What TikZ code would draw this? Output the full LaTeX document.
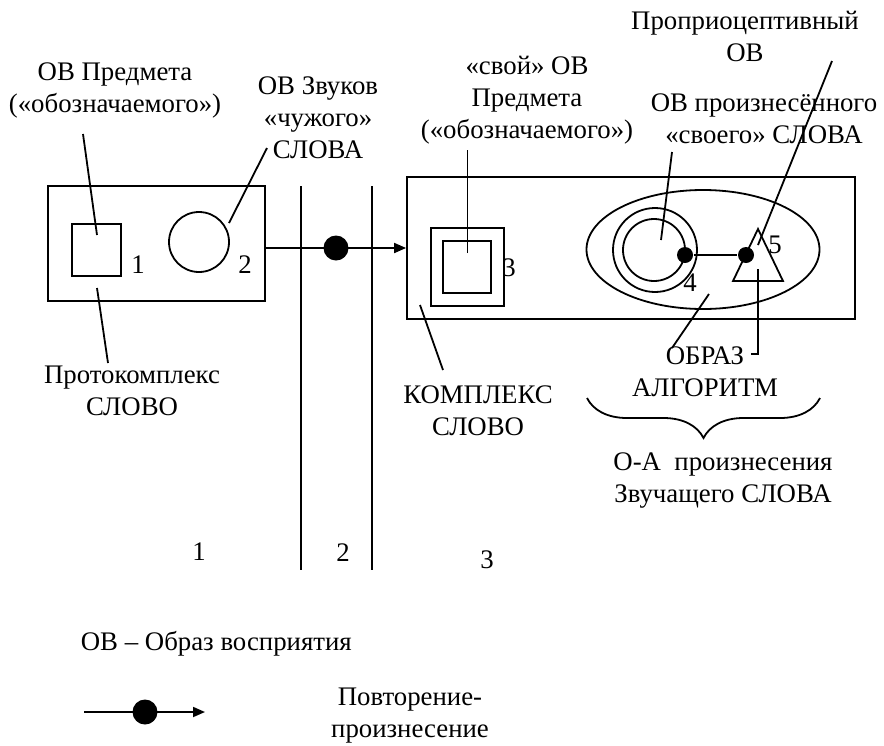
\documentclass[tikz,border=0pt]{standalone}
\usepackage{fontspec}
\setmainfont{Liberation Serif}
\usetikzlibrary{arrows.meta,shapes.geometric,decorations.pathreplacing}
\tikzset{
  txt/.style={font=\fontsize{13.4}{16}\selectfont, inner sep=0pt, align=center, anchor=base},
  num/.style={font=\fontsize{13.4}{16}\selectfont, inner sep=0pt},
  bdot/.style={circle, fill=black, inner sep=0pt, minimum size=#1},
  arr/.style={-{Triangle[length=6pt,width=5pt]}},
}
\begin{document}
\begin{tikzpicture}[x=0.5pt, y=-0.5pt, line width=0.9pt]
  \useasboundingbox (0,0) rectangle (884,745);
  % zone 1: protocomplex
  \node[draw, minimum width=108.5pt, minimum height=57.5pt] (proto) at (156.5,243.5) {};
  \node[draw, minimum width=24.5pt, minimum height=26pt] (sq1) at (96.5,250) {};
  \node[draw, circle, minimum size=30pt] (circ2) at (199,242) {};
  \node[num] (n1) at (138,265) {1};
  \node[num] (n2) at (245,265) {2};
  % zone borders
  \draw (301,186) -- (301,570);
  \draw (372,186) -- (372,570);
  % zone 3: complex
  \node[draw, minimum width=224pt, minimum height=71pt] (kompl) at (631,248) {};
  \node[draw, minimum width=36.5pt, minimum height=39pt] (sq3o) at (467.5,267) {};
  \node[draw, minimum width=24pt, minimum height=26pt] (sq3i) at (467,267) {};
  \node[num] (n3) at (509,268) {3};
  \node[draw, ellipse, minimum width=116.5pt, minimum height=59.5pt] (oa) at (703,249.5) {};
  \node[draw, circle, minimum size=42pt] (c4o) at (655,250) {};
  \node[draw, circle, minimum size=31pt] (c4i) at (654,250) {};
  \node[bdot=8pt] (d1) at (685,255) {};
  \node[bdot=8pt] (d2) at (746,255) {};
  \draw (d1) -- (d2);
  \coordinate (t1) at (758,229);
  \coordinate (t2) at (733,281);
  \coordinate (t3) at (783,281);
  \draw (t1) -- (t2) -- (t3) -- cycle;
  \node[num] (n4) at (690,283) {4};
  \node[num] (n5) at (775,245) {5};
  % repetition arrow
  \draw[arr] (proto.east |- kompl.west) -- (kompl.west);
  \node[bdot=12.5pt] (rep) at (336,248) {};
  % labels (base = last line)
  \node[txt] (lsq1) at (115,112) {ОВ Предмета\\(«обозначаемого»)};
  \node[txt] (lcirc2) at (318,158) {ОВ Звуков\\«чужого»\\СЛОВА};
  \node[txt] (lproto) at (132,415) {Протокомплекс\\СЛОВО};
  \node[txt] (lsq3) at (527,138) {«свой» ОВ\\Предмета\\(«обозначаемого»)};
  \node[txt] (lkompl) at (478,435) {КОМПЛЕКС\\СЛОВО};
  \node[txt] (ltri) at (745,61) {Проприоцептивный\\ОВ};
  \node[txt] (lc4) at (764,143) {ОВ произнесённого\\«своего» СЛОВА};
  \node[txt] (lobraz) at (705,396.6) {ОБРАЗ\\АЛГОРИТМ};
  \node[txt] (loa) at (723,502) {О-А\ \ произнесения\\Звучащего СЛОВА};
  % leaders
  \coordinate (p1) at (97,235);   \coordinate (q1) at (83,134);
  \coordinate (p2) at (229,223);  \coordinate (q2) at (267,148);
  \coordinate (p3) at (97,288);   \coordinate (q3) at (108,363);
  \coordinate (p4) at (467.5,253); \coordinate (q4) at (467.5,150);
  \coordinate (p5) at (420,305);  \coordinate (q5) at (443,370);
  \coordinate (p6) at (661,240);  \coordinate (q6) at (672,152);
  \coordinate (p7) at (758,245);  \coordinate (q7) at (832,61);
  \coordinate (p8) at (709,294);  \coordinate (q8) at (672,348);
  \coordinate (p9) at (758,269);  \coordinate (q9) at (751,354);
  \draw (p1) -- (q1);
  \draw (p2) -- (q2);
  \draw (p3) -- (q3);
  \draw (p4) -- (q4);
  \draw (p5) -- (q5);
  \draw (p6) -- (q6);
  \draw (p7) -- (q7);
  \draw (p8) -- (q8);
  \draw (p9) |- (q9);
  % brace under image-algorithm
  \draw[decorate, decoration={brace, amplitude=20pt, aspect=0.5}] (820,398) -- (587,398);
  % zone numbers
  \node[num] (z1) at (199,552) {1};
  \node[num] (z2) at (343,553) {2};
  \node[num] (z3) at (487,560) {3};
  % legend
  \node[txt, anchor=base west] (leg1) at (80,650) {ОВ – Образ восприятия};
  \coordinate (la) at (84,712);
  \coordinate (lb) at (205,712);
  \draw[arr] (la) -- (lb);
  \node[bdot=12.5pt] (ldot) at (145,712) {};
  \node[txt] (leg2) at (410,737) {Повторение-\\произнесение};
\end{tikzpicture}
\end{document}
